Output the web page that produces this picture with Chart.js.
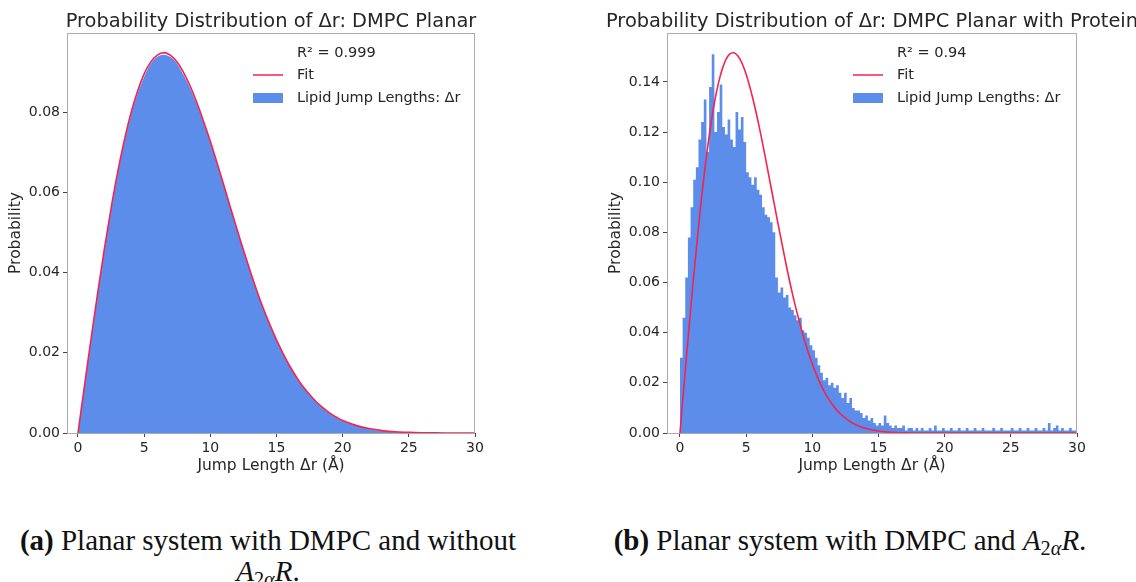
<!DOCTYPE html>
<html>
<head>
<meta charset="utf-8">
<script src="https://cdn.jsdelivr.net/npm/chart.js@4.4.0/dist/chart.umd.min.js"></script>
<style>
  html, body { margin: 0; padding: 0; background: #fff; }
  body { width: 1136px; height: 582px; position: relative; overflow: hidden; }
  .panel { position: absolute; top: 0; height: 480px; }
  #panelA { left: 0; width: 560px; }
  #panelB { left: 560px; width: 576px; }
  .cap { position: absolute; font-family: "Liberation Serif", serif; font-size: 29px; color: #111;
         white-space: nowrap; transform: translateX(-50%); line-height: 1; }
  .cap sub { font-size: 0.7em; vertical-align: -0.25em; }
</style>
</head>
<body>
<div class="panel" id="panelA"><canvas id="chartA" width="560" height="480"></canvas></div>
<div class="panel" id="panelB"><canvas id="chartB" width="576" height="480"></canvas></div>
<div class="cap" style="left:268px; top:526px;"><b>(a)</b> Planar system with DMPC and without</div>
<div class="cap" style="left:268px; top:557px;"><i>A</i><sub>2<i>α</i></sub><i>R</i>.</div>
<div class="cap" style="left:850px; top:526px;"><b>(b)</b> Planar system with DMPC and <i>A</i><sub>2<i>α</i></sub><i>R</i>.</div>

<script>
// ---- data ----
const xTicks = [0, 5, 10, 15, 20, 25, 30];
const planarYTicks = [0, 0.02, 0.04, 0.06, 0.08];
const proteinYTicks = [0, 0.02, 0.04, 0.06, 0.08, 0.10, 0.12, 0.14];

// (a) DMPC planar
const planarX = [0,0.5,1,1.5,2,2.5,3,3.5,4,4.5,5,5.5,6,6.5,7,7.5,8,8.5,9,9.5,10,10.5,11,11.5,12,12.5,13,13.5,14,14.5,15,15.5,16,16.5,17,17.5,18,18.5,19,19.5,20,21,22,23,24,25,26,27,28,29,30];
const planarHist = [0,0.0117,0.0235,0.0349,0.0457,0.0556,0.0646,0.0725,0.0792,0.0846,0.0888,0.0921,0.0938,0.0943,0.0937,0.0920,0.0891,0.0858,0.0818,0.0773,0.0724,0.0672,0.0618,0.0563,0.0509,0.0455,0.0404,0.0355,0.0310,0.0269,0.0231,0.0197,0.0166,0.0139,0.0115,0.0095,0.0077,0.0062,0.0049,0.0039,0.0030,0.0018,0.0010,0.0005,0.0003,0.00014,0.00006,0.00003,0.00001,0,0];
const planarFit = [0,0.0120,0.0238,0.0352,0.0460,0.0560,0.0650,0.0729,0.0797,0.0852,0.0895,0.0925,0.0942,0.0948,0.0941,0.0924,0.0897,0.0863,0.0822,0.0776,0.0727,0.0674,0.0620,0.0564,0.0510,0.0456,0.0405,0.0356,0.0311,0.0270,0.0232,0.0198,0.0167,0.0140,0.0116,0.0096,0.0078,0.0063,0.0050,0.0040,0.0031,0.0019,0.0011,0.0006,0.0003,0.00015,0.00007,0.00003,0.00001,0,0];

// (b) DMPC planar with protein, histogram bins 0.2 A wide starting at 0
const proteinBinWidth = 0.2;
const proteinHist = [
  0.012,0.030,0.046,0.062,0.078,0.090,0.101,0.106,0.117,0.124,
  0.133,0.112,0.138,0.151,0.120,0.128,0.139,0.122,0.119,0.125,
  0.117,0.114,0.128,0.121,0.126,0.116,0.104,0.102,0.099,0.102,
  0.097,0.095,0.090,0.087,0.086,0.084,0.080,0.062,0.056,0.058,
  0.054,0.055,0.050,0.049,0.047,0.045,0.046,0.041,0.040,0.038,
  0.035,0.033,0.030,0.027,0.024,0.021,0.022,0.019,0.020,0.018,
  0.019,0.016,0.014,0.016,0.012,0.014,0.010,0.009,0.009,0.008,
  0.006,0.007,0.005,0.006,0.004,0.003,0.004,0.003,0.007,0.004,
  0.003,0.002,0.003,0.002,0.002,0.003,0.001,0.002,0.002,0.001,
  0.002,0.001,0.002,0.001,0.001,0.002,0.001,0.003,0.001,0.001,
  0.002,0.001,0.001,0.002,0.001,0.001,0.002,0.001,0.001,0.002,
  0.001,0.001,0.002,0.001,0.001,0.002,0.001,0.001,0.001,0.002,
  0.001,0.001,0.002,0.001,0.001,0.001,0.002,0.001,0.001,0.002,
  0.001,0.001,0.002,0.001,0.001,0.002,0.001,0.001,0.002,0.001,
  0.004,0.001,0.002,0.003,0.001,0.002,0.001,0.001,0.002,0.001
];
const proteinFitX = [0,0.5,1,1.5,2,2.5,3,3.5,4,4.5,5,5.5,6,6.5,7,7.5,8,8.5,9,9.5,10,10.5,11,11.5,12,12.5,13,13.5,14,15,16,17,18,19,20,21,22,23,24,25,26,27,28,29,30];
const proteinFit = [0,0.0310,0.0606,0.0874,0.1103,0.1286,0.1415,0.1492,0.1516,0.1494,0.1431,0.1335,0.1218,0.1085,0.0947,0.0810,0.0677,0.0555,0.0448,0.0354,0.0275,0.0209,0.0156,0.0115,0.0083,0.0059,0.0041,0.0028,0.0019,0.0008,0.0003,0.0001,0,0,0,0,0,0,0,0,0,0,0,0,0];

const HIST_BLUE = 'rgb(92,141,234)';
const FIT_RED = '#f5234f';
const TEXT = '#262626';
const FONT = '"DejaVu Sans", sans-serif';

// draws frame, title and the in-axes legend (matplotlib style)
const overlay = {
  id: 'overlay',
  afterDraw(chart, args, opts) {
    const {ctx, chartArea: ca} = chart;
    ctx.save();
    ctx.strokeStyle = '#ababab';
    ctx.lineWidth = 1;
    ctx.strokeRect(ca.left + 0.5, ca.top + 0.5, ca.right - ca.left - 1, ca.bottom - ca.top);

    ctx.fillStyle = TEXT;
    ctx.font = '19.4px ' + FONT;
    ctx.textAlign = 'center';
    ctx.textBaseline = 'alphabetic';
    ctx.fillText(opts.title, (ca.left + ca.right) / 2, 27);

    const hx = ca.left + 186, tx = ca.left + 230;
    ctx.font = '14.5px ' + FONT;
    ctx.textAlign = 'left';
    ctx.textBaseline = 'middle';
    ctx.fillText(opts.r2, tx, 53);
    ctx.strokeStyle = FIT_RED;
    ctx.lineWidth = 1.5;
    ctx.beginPath();
    ctx.moveTo(hx, 75);
    ctx.lineTo(hx + 30, 75);
    ctx.stroke();
    ctx.fillText('Fit', tx, 75);
    ctx.fillStyle = HIST_BLUE;
    ctx.fillRect(hx, 93, 30, 10);
    ctx.fillStyle = TEXT;
    ctx.fillText('Lipid Jump Lengths: \u0394r', tx, 98);
    ctx.restore();
  }
};

function makeChart(id, cfg) {
  return new Chart(document.getElementById(id), {
    type: 'line',
    data: {datasets: [
      {
        label: 'Lipid Jump Lengths: \u0394r',
        data: cfg.hist,
        backgroundColor: HIST_BLUE,
        borderWidth: 0,
        pointRadius: 0,
        fill: 'origin',
        stepped: cfg.stepped,
        cubicInterpolationMode: 'monotone',
        order: 2
      },
      {
        label: 'Fit',
        data: cfg.fit,
        borderColor: FIT_RED,
        borderWidth: 1.6,
        pointRadius: 0,
        fill: false,
        cubicInterpolationMode: 'monotone',
        order: 1
      }
    ]},
    options: {
      responsive: false,
      animation: false,
      layout: {padding: {top: 33, bottom: 0, left: cfg.padLeft, right: cfg.padRight}},
      plugins: {
        legend: {display: false},
        tooltip: {enabled: false},
        overlay: {title: cfg.title, r2: cfg.r2}
      },
      scales: {
        x: {
          type: 'linear',
          min: cfg.xMin,
          max: 30,
          afterBuildTicks: s => { s.ticks = xTicks.map(v => ({value: v})); },
          afterFit: s => { s.height = 47; },
          border: {display: false},
          grid: {drawOnChartArea: false, drawTicks: true, tickLength: 4, color: '#444'},
          ticks: {autoSkip: false, maxRotation: 0, padding: 3, color: TEXT,
                  font: {family: FONT, size: 14}, callback: v => String(v)},
          title: {display: true, text: 'Jump Length \u0394r (\u00c5)', color: TEXT,
                  font: {family: FONT, size: 15.5}, padding: {top: 0, bottom: 5}}
        },
        y: {
          min: 0,
          max: cfg.yMax,
          afterBuildTicks: s => { s.ticks = cfg.yTicks.map(v => ({value: v})); },
          afterFit: s => { s.width = 67; },
          border: {display: false},
          grid: {drawOnChartArea: false, drawTicks: true, tickLength: 4, color: '#444'},
          ticks: {autoSkip: false, padding: 3, color: TEXT,
                  font: {family: FONT, size: 14}, callback: v => v.toFixed(2)},
          title: {display: true, text: 'Probability', color: TEXT,
                  font: {family: FONT, size: 15.5}, padding: {top: 7, bottom: 0}}
        }
      }
    },
    plugins: [overlay]
  });
}

const planarHistPts = planarX.map((x, i) => ({x: x, y: planarHist[i]}));
const planarFitPts = planarX.map((x, i) => ({x: x, y: planarFit[i]}));

const proteinHistPts = proteinHist.map((v, i) => ({x: i * proteinBinWidth, y: v}));
proteinHistPts.push({x: proteinHist.length * proteinBinWidth, y: proteinHist[proteinHist.length - 1]});
const proteinFitPts = proteinFitX.map((x, i) => ({x: x, y: proteinFit[i]}));

makeChart('chartA', {
  hist: planarHistPts, fit: planarFitPts, stepped: false,
  title: 'Probability Distribution of \u0394r: DMPC Planar', r2: 'R\u00b2 = 0.999',
  xMin: -0.83, yMax: 0.0997, yTicks: planarYTicks, padLeft: 0, padRight: 85
});

makeChart('chartB', {
  hist: proteinHistPts, fit: proteinFitPts, stepped: 'after',
  title: 'Probability Distribution of \u0394r: DMPC Planar with Protein', r2: 'R\u00b2 = 0.94',
  xMin: -0.98, yMax: 0.1595, yTicks: proteinYTicks, padLeft: 40, padRight: 59
});
</script>
</body>
</html>
